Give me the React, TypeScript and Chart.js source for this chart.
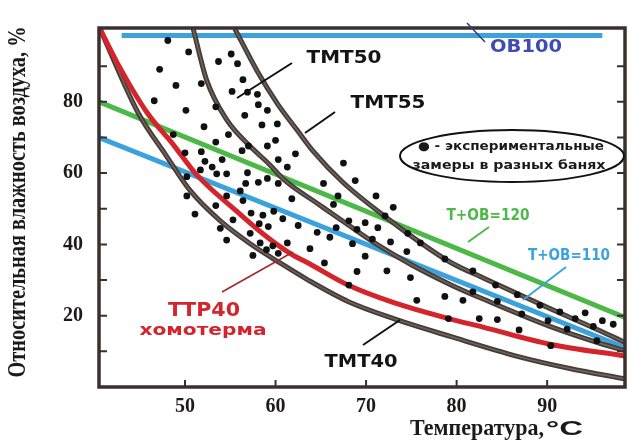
import { useEffect, useRef } from "react";
import { Chart, registerables } from "chart.js";

Chart.register(...registerables);

// Experimental measurements in different saunas: air temperature (°C) and relative humidity (%)
const measuredTemp = [
  48.1, 50.4, 47.2, 49.0, 46.6, 50.1, 52.1, 51.8, 53.7, 55.1,
  55.8, 56.4, 55.2, 56.9, 58.0, 53.4, 56.6, 58.1, 59.1, 58.5,
  60.2, 54.8, 53.4, 51.8, 50.0, 54.1, 52.2, 53.0, 53.5, 51.7,
  56.3, 57.0, 59.1, 60.0, 62.2, 60.3, 61.3, 54.6, 56.9, 56.7,
  58.1, 59.1, 60.3, 50.2, 50.2, 54.6, 56.1, 56.4, 61.8, 51.1,
  53.4, 55.3, 57.3, 58.6, 59.8, 60.8, 58.2, 59.2, 53.9, 57.2,
  62.5, 64.6, 54.6, 58.3, 59.7, 61.3, 63.8, 60.3, 57.5, 59.0,
  67.5, 68.8, 65.3, 66.4, 71.1, 73.0, 72.1, 68.1, 69.9, 71.3,
  74.6, 69.0, 66.7, 70.7, 72.7, 76.0, 66.0, 68.5, 69.9, 74.5,
  78.7, 65.4, 69.0, 72.3, 74.9, 81.8, 66.9, 68.1, 75.6, 78.7,
  79.1, 84.3, 81.8, 80.7, 84.5, 86.7, 87.2, 89.2, 91.4, 93.1,
  94.2, 96.1, 97.3, 95.1, 90.1, 92.2, 95.5, 82.5, 84.5, 86.9,
  90.4, 48.7,
];
const measuredHumidity = [
  97.2, 94.0, 89.1, 84.6, 80.3, 77.6, 73.0, 85.1, 91.3, 93.4,
  90.7, 86.2, 82.9, 82.7, 82.1, 78.6, 76.2, 79.2, 77.6, 73.5,
  73.8, 70.8, 68.7, 66.0, 65.7, 63.8, 63.3, 61.7, 59.8, 60.9,
  66.3, 67.6, 67.6, 69.2, 65.4, 63.8, 61.7, 59.8, 60.1, 57.1,
  57.4, 58.5, 57.1, 59.0, 53.6, 53.6, 55.0, 52.3, 52.8, 48.5,
  50.9, 46.9, 48.8, 48.2, 49.3, 47.2, 45.8, 45.0, 44.5, 43.1,
  45.3, 43.4, 41.2, 40.4, 39.6, 40.4, 38.8, 37.5, 36.9, 38.5,
  62.8, 57.9, 57.1, 51.2, 53.6, 50.4, 48.0, 46.6, 46.1, 44.7,
  43.1, 44.2, 44.7, 41.5, 40.7, 40.4, 42.0, 40.2, 36.7, 38.0,
  35.9, 34.8, 32.4, 32.6, 30.7, 32.6, 53.6, 28.6, 24.3, 25.4,
  19.2, 28.6, 26.7, 24.3, 24.0, 25.9, 20.5, 22.9, 21.1, 19.2,
  20.8, 18.6, 17.6, 17.0, 18.6, 16.2, 13.0, 19.2, 18.9, 16.0,
  11.6, 70.8,
];

// Comfort curves (temperature, humidity)
const tmt40Temp = [40.6, 44.8, 47.9, 50.6, 53.9, 57.2, 60.5, 63.6, 68.0, 72.9, 79.4, 86.7, 92.5, 98.6];
const tmt40Hum = [100.5, 77, 65, 55, 46.6, 40.2, 34.8, 30.0, 24.0, 19.3, 14.1, 8.6, 5.2, 2.3];

const tmt50Temp = [50.9, 52.4, 54.6, 57.2, 59.3, 61.0, 64.9, 68.0, 71.2, 75.0, 79.5, 83.0, 90.3, 95.9, 98.6];
const tmt50Hum = [100.5, 86, 75, 67.5, 62.5, 58, 51, 45.5, 40, 34.3, 28.5, 24.6, 17.0, 12.2, 10.2];

const tmt55Temp = [55.5, 58.0, 60.2, 62.4, 64.2, 67.4, 72.3, 76.0, 79.3, 83.0, 90.3, 95.9, 98.6];
const tmt55Hum = [100.5, 88.5, 79.5, 72, 66, 57.5, 47.4, 40.5, 35, 30.5, 22, 15.7, 12.5];

const ttr40Temp = [40.6, 42.5, 45.8, 48.7, 51.3, 55.7, 58.6, 61.6, 63.8, 68.0, 72.9, 79.1, 82.9, 90.3, 98.6];
const ttr40Hum = [100.5, 91, 77, 68, 59.5, 49.3, 43, 37.5, 34.5, 28.6, 23.8, 19.2, 16.8, 12.0, 8.7];

const sum120Temp = [40.5, 98.6];
const sum120Hum = [80, 19.5];

const sum110Temp = [40.5, 98.6];
const sum110Hum = [70, 11];

const ob100Temp = [43, 96.1];
const ob100Hum = [98.6, 98.6];

const xTickLabels = [50, 60, 70, 80, 90];
const yTickLabels = [20, 40, 60, 80];
const yMinorTicks = [10, 20, 30, 40, 50, 60, 70, 80, 90];

const yTitle = "Относительная влажность воздуха, %";
const xTitleMain = "Температура,";
const xTitleUnit = "°C";

const pts = (xs: number[], ys: number[]) => xs.map((x, i) => ({ x, y: ys[i] }));

const GRAY_OUT = "#463c38";
const GRAY_IN = "#74675f";
const RED = "#d3252b";
const GREEN = "#4cb848";
const BLUE = "#3ba2dc";

// Text labels placed on the canvas: text, centre x, centre y, width, font size, colour
const notes: [string, number, number, number, number, string][] = [
  ["ОВ100", 526, 48, 72, 17, "#3d4db3"],
  ["ТМТ50", 344, 59, 75, 17, "#141414"],
  ["ТМТ55", 388, 104, 75, 17, "#141414"],
  ["Т+ОВ=120", 488, 216, 83, 15, GREEN],
  ["Т+ОВ=110", 569, 256, 82, 15, BLUE],
  ["ТТР40", 204, 311, 72, 19, RED],
  ["хомотерма", 203, 331, 127, 16, RED],
  ["ТМТ40", 361, 363, 73, 17, "#141414"],
  ["● - экспериментальные", 511, 147, 186, 12, "#1a1a1a"],
  ["замеры в разных банях", 509, 166, 193, 12, "#1a1a1a"],
];

// Leader lines from labels to curves: x1, y1, x2, y2, colour, width
const leaders: [number, number, number, number, string, number][] = [
  [467, 23, 485, 42, "#2c3e7c", 1.5],
  [237, 98, 292, 63, "#111", 2],
  [305, 133, 335, 112, "#111", 2],
  [468, 242, 489, 227, GREEN, 2],
  [523, 300, 566, 267, BLUE, 2],
  [222, 292, 293, 252, "#a3282c", 1.5],
  [363, 345, 400, 320, "#111", 2],
];

function fitText(
  ctx: CanvasRenderingContext2D,
  text: string,
  cx: number,
  cy: number,
  w: number,
  font: string,
  color: string
) {
  ctx.save();
  ctx.font = font;
  ctx.fillStyle = color;
  ctx.textAlign = "center";
  ctx.textBaseline = "middle";
  const m = ctx.measureText(text).width;
  ctx.translate(cx, cy);
  ctx.scale(w / m, 1);
  ctx.fillText(text, 0, 0);
  ctx.restore();
}

const decorPlugin = {
  id: "decor",
  afterDatasetsDraw(chart: any) {
    const { ctx, chartArea: a, scales } = chart;
    const xs = scales.x;
    const ys = scales.y;
    ctx.save();
    ctx.strokeStyle = "#3a302e";
    ctx.lineWidth = 2;
    ctx.beginPath();
    for (const v of yMinorTicks) {
      const py = ys.getPixelForValue(v);
      ctx.moveTo(a.left, py);
      ctx.lineTo(a.left + 8, py);
      ctx.moveTo(a.right - 8, py);
      ctx.lineTo(a.right, py);
    }
    for (const v of xTickLabels) {
      const px = xs.getPixelForValue(v);
      ctx.moveTo(px, a.bottom);
      ctx.lineTo(px, a.bottom - 7);
    }
    ctx.stroke();
    ctx.lineWidth = 3.5;
    ctx.strokeRect(a.left, a.top, a.right - a.left, a.bottom - a.top);

    for (const [x1, y1, x2, y2, c, lw] of leaders) {
      ctx.strokeStyle = c;
      ctx.lineWidth = lw;
      ctx.beginPath();
      ctx.moveTo(x1, y1);
      ctx.lineTo(x2, y2);
      ctx.stroke();
    }

    // ellipse around the note about the measured points
    ctx.strokeStyle = "#111";
    ctx.lineWidth = 2;
    ctx.beginPath();
    ctx.ellipse(512, 156, 112, 26, 0, 0, Math.PI * 2);
    ctx.stroke();

    for (const [t, x, y, w, size, c] of notes) {
      fitText(ctx, t, x, y, w, `bold ${size}px "DejaVu Sans"`, c);
    }
    ctx.restore();
  },
  afterDraw(chart: any) {
    const { ctx } = chart;
    ctx.save();
    // vertical axis title
    ctx.font = 'bold 20px "Liberation Serif"';
    ctx.fillStyle = "#1a1a1a";
    ctx.textAlign = "center";
    ctx.textBaseline = "alphabetic";
    const m = ctx.measureText(yTitle).width;
    ctx.translate(25, 202);
    ctx.rotate(-Math.PI / 2);
    ctx.scale(351 / m, 1.3);
    ctx.fillText(yTitle, 0, 0);
    ctx.restore();

    // horizontal axis title
    ctx.save();
    ctx.fillStyle = "#1a1a1a";
    ctx.textBaseline = "alphabetic";
    ctx.textAlign = "left";
    ctx.font = 'bold 24px "Liberation Serif"';
    const m1 = ctx.measureText(xTitleMain).width;
    ctx.save();
    ctx.translate(410, 435);
    ctx.scale(134 / m1, 1);
    ctx.fillText(xTitleMain, 0, 0);
    ctx.restore();
    ctx.font = 'bold 21px "Liberation Sans"';
    const m2 = ctx.measureText(xTitleUnit).width;
    ctx.translate(546, 435);
    ctx.scale(37 / m2, 1);
    ctx.fillText(xTitleUnit, 0, 0);
    ctx.restore();
  },
};

function grayCurve(xs: number[], ys: number[]) {
  return [
    {
      type: "line" as const,
      data: pts(xs, ys),
      borderColor: GRAY_OUT,
      borderWidth: 5,
      pointRadius: 0,
      cubicInterpolationMode: "monotone" as const,
      fill: false,
      order: 3,
    },
    {
      type: "line" as const,
      data: pts(xs, ys),
      borderColor: GRAY_IN,
      borderWidth: 1.4,
      pointRadius: 0,
      cubicInterpolationMode: "monotone" as const,
      fill: false,
      order: 2,
    },
  ];
}

function straight(xs: number[], ys: number[], color: string) {
  return {
    type: "line" as const,
    data: pts(xs, ys),
    borderColor: color,
    borderWidth: 5,
    pointRadius: 0,
    tension: 0,
    fill: false,
    order: 4,
  };
}

export default function App() {
  const ref = useRef<HTMLCanvasElement | null>(null);

  useEffect(() => {
    if (!ref.current) return;
    const tickFont = { family: '"Liberation Serif"', weight: "bold" as const, size: 20 };
    const chart = new Chart(ref.current, {
      type: "scatter",
      data: {
        datasets: [
          {
            type: "scatter",
            data: pts(measuredTemp, measuredHumidity),
            backgroundColor: "#111",
            borderWidth: 0,
            pointRadius: 3.4,
            order: 0,
          },
          {
            type: "line",
            data: pts(ttr40Temp, ttr40Hum),
            borderColor: RED,
            borderWidth: 5,
            pointRadius: 0,
            cubicInterpolationMode: "monotone",
            fill: false,
            order: 1,
          },
          ...grayCurve(tmt40Temp, tmt40Hum),
          ...grayCurve(tmt50Temp, tmt50Hum),
          ...grayCurve(tmt55Temp, tmt55Hum),
          straight(sum120Temp, sum120Hum, GREEN),
          straight(sum110Temp, sum110Hum, BLUE),
          straight(ob100Temp, ob100Hum, BLUE),
        ] as any,
      },
      options: {
        animation: false,
        responsive: false,
        devicePixelRatio: 1,
        events: [],
        layout: { padding: { top: 12, right: 4, left: 0, bottom: 0 } },
        plugins: { legend: { display: false }, tooltip: { enabled: false } },
        scales: {
          x: {
            type: "linear",
            min: 40.5,
            max: 98.6,
            grid: { display: false, drawTicks: false },
            border: { display: false },
            ticks: {
              stepSize: 10,
              includeBounds: false,
              autoSkip: false,
              maxRotation: 0,
              padding: 8,
              color: "#1e1a1a",
              font: tickFont,
              callback: (v: any) => (xTickLabels.includes(Number(v)) ? String(v) : ""),
            },
            afterFit: (s: any) => {
              s.height = 58;
            },
          },
          y: {
            type: "linear",
            min: 0,
            max: 100.7,
            grid: { display: false, drawTicks: false },
            border: { display: false },
            ticks: {
              stepSize: 10,
              includeBounds: false,
              autoSkip: false,
              padding: 16,
              color: "#1e1a1a",
              font: tickFont,
              callback: (v: any) => (yTickLabels.includes(Number(v)) ? String(v) : ""),
            },
            afterFit: (s: any) => {
              s.width = 99;
            },
          },
        },
      },
      plugins: [decorPlugin],
    });
    return () => chart.destroy();
  }, []);

  return (
    <div style={{ position: "absolute", left: 0, top: 0, width: 629, height: 445, background: "#fff" }}>
      <canvas ref={ref} width={629} height={445} style={{ width: 629, height: 445 }} />
    </div>
  );
}
